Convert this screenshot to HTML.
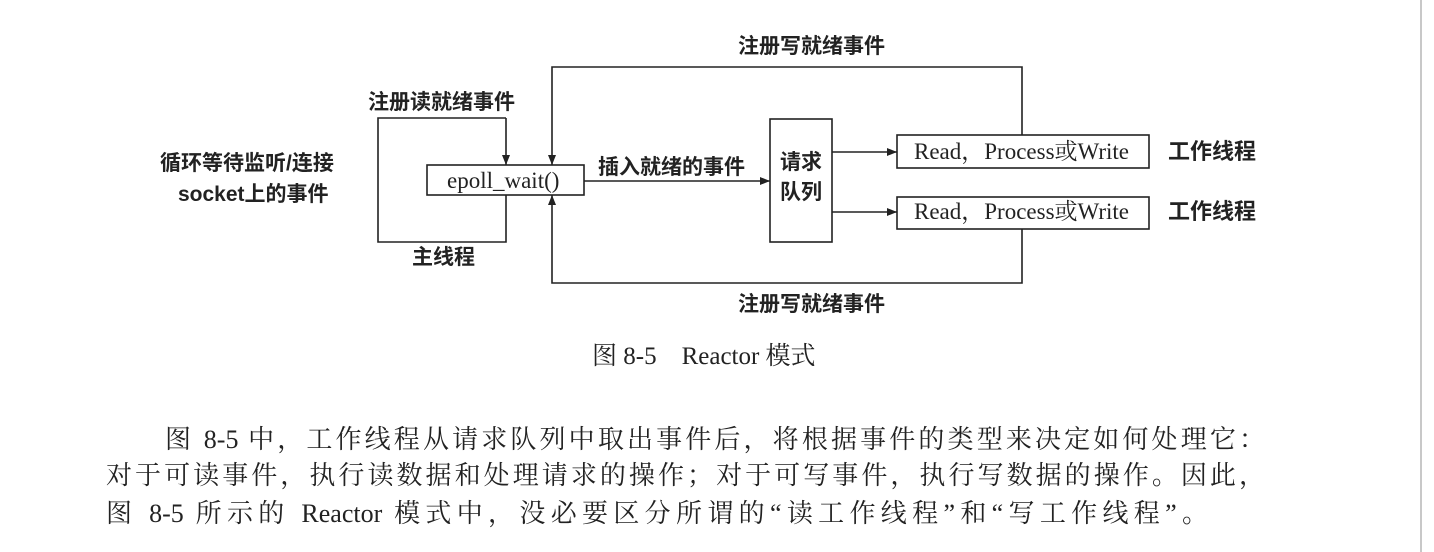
<!DOCTYPE html>
<html><head><meta charset="utf-8"><style>
html,body{margin:0;padding:0;background:#fff;}
body{width:1434px;height:552px;position:relative;overflow:hidden;}
.t{position:absolute;white-space:nowrap;color:#222;}
.b{font-family:"Liberation Sans","Noto Sans CJK SC",sans-serif;font-weight:bold;font-size:21px;line-height:28px;}
.s{font-family:"Liberation Serif","Noto Serif CJK SC",serif;line-height:28px;}
.p{font-family:"Liberation Serif","Noto Serif CJK SC",serif;font-size:26px;position:absolute;color:#222;white-space:nowrap;text-align:justify;text-align-last:justify;height:32px;line-height:32px;}
</style></head><body>
<svg width="1434" height="552" style="position:absolute;left:0;top:0" xmlns="http://www.w3.org/2000/svg">
<defs><marker id="a" markerWidth="10" markerHeight="8" refX="10" refY="4" orient="auto" markerUnits="userSpaceOnUse"><path d="M0,0 L10,4 L0,8 z" fill="#222"/></marker></defs>
<g stroke="#222" stroke-width="1.6" fill="none">
<path d="M506,118 L378,118 L378,242 L506,242 L506,195"/>
<path d="M506,118 L506,165" marker-end="url(#a)"/>
<rect x="427" y="165" width="157" height="30" fill="#fff"/>
<path d="M1022,135 L1022,67 L552,67 L552,165" marker-end="url(#a)"/>
<path d="M1022,229 L1022,283 L552,283 L552,195" marker-end="url(#a)"/>
<path d="M584,181 L770,181" marker-end="url(#a)"/>
<rect x="770" y="119" width="62" height="123"/>
<path d="M832,152 L897,152" marker-end="url(#a)"/>
<path d="M832,212 L897,212" marker-end="url(#a)"/>
<rect x="897" y="135" width="252" height="33" fill="#fff"/>
<rect x="897" y="197" width="252" height="32" fill="#fff"/>
<line x1="1421" y1="0" x2="1421" y2="552" stroke="#bbb"/>
</g>
</svg>
<div class="t b" style="left:738px;top:33px">注册写就绪事件</div>
<div class="t b" style="left:738px;top:291px">注册写就绪事件</div>
<div class="t b" style="left:368px;top:89px">注册读就绪事件</div>
<div class="t b" style="left:160px;top:150px">循环等待监听/连接</div>
<div class="t b" style="left:178px;top:181px">socket上的事件</div>
<div class="t b" style="left:412px;top:244px">主线程</div>
<div class="t b" style="left:598px;top:154px">插入就绪的事件</div>
<div class="t b" style="left:780px;top:148px;line-height:30px">请求<br>队列</div>
<div class="t s" style="left:447px;top:167px;font-size:23px">epoll_wait()</div>
<div class="t s" style="left:914px;top:138px;font-size:23px">Read，Process或Write</div>
<div class="t s" style="left:914px;top:198px;font-size:23px">Read，Process或Write</div>
<div class="t b" style="left:1168px;top:138px;font-size:22px">工作线程</div>
<div class="t b" style="left:1168px;top:198px;font-size:22px">工作线程</div>
<div class="t s" style="left:592px;top:343px;font-size:25px">图 8-5　Reactor 模式</div>
<div class="p" style="left:165px;top:424px;width:1100px">图 8-5 中，工作线程从请求队列中取出事件后，将根据事件的类型来决定如何处理它：</div>
<div class="p" style="left:106px;top:460px;width:1159px">对于可读事件，执行读数据和处理请求的操作；对于可写事件，执行写数据的操作。因此，</div>
<div class="p" style="left:106px;top:498px;width:1102px">图 8-5 所示的 Reactor 模式中，没必要区分所谓的“读工作线程”和“写工作线程”。</div>
</body></html>
